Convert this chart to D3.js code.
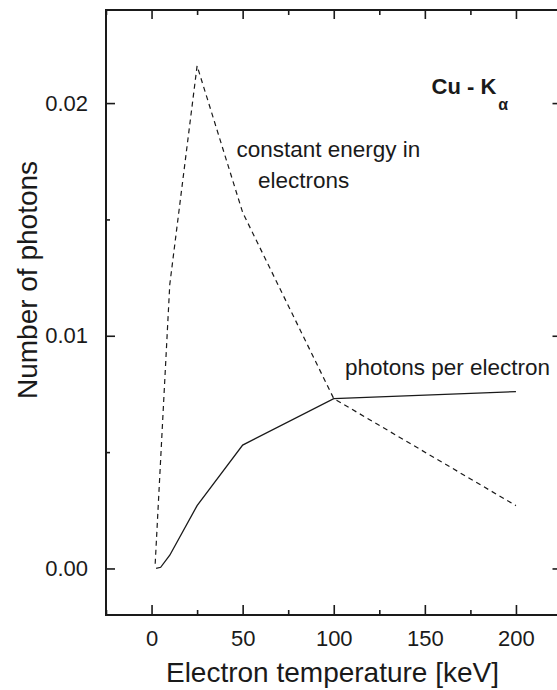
<!DOCTYPE html>
<html>
<head>
<meta charset="utf-8">
<script src="https://cdn.jsdelivr.net/npm/d3@7"></script>
<style>
  html, body { margin: 0; padding: 0; background: #fff; overflow: hidden; }
  svg { display: block; font-family: "Liberation Sans", Arial, sans-serif; }
</style>
</head>
<body>
<div id="container"></div>
<script>
// electron temperature (keV) -> number of photons
const perElectronT = [2.5, 5, 10, 25, 50, 100, 200];
const perElectronN = [0, 0.00005, 0.00057, 0.0027, 0.0053, 0.0073, 0.0076];

const constEnergyT = [2, 10, 25, 50, 100, 200];
const constEnergyN = [0.0002, 0.0122, 0.0216, 0.0153, 0.0073, 0.0027];

const xTicks = [0, 50, 100, 150, 200];
const xMinor = [-25, 25, 75, 125, 175, 225];
const yTicks = [0, 0.01, 0.02];
const yMinor = [0.005, 0.015];

const chart = () => {
  const width = 557, height = 690;
  const left = 106, top = 10, right = 561.5, bottom = 615;

  const x = d3.scaleLinear().domain([-25, 225]).range([left, right]);
  const y = d3.scaleLinear().domain([-0.002, 0.024]).range([bottom, top]);

  const svg = d3.create("svg")
    .attr("width", width)
    .attr("height", height)
    .attr("viewBox", [0, 0, width, height]);

  const ink = "#1a1a1a";

  // frame
  svg.append("rect")
    .attr("x", left).attr("y", top)
    .attr("width", right - left).attr("height", bottom - top)
    .attr("fill", "none")
    .attr("stroke", ink)
    .attr("stroke-width", 2);

  const tickStyle = g => g.call(g => g.select(".domain").remove())
    .call(g => g.selectAll("line").attr("stroke", ink).attr("stroke-width", 1.6));

  // bottom axis with labels
  svg.append("g")
    .attr("transform", `translate(0,${bottom})`)
    .call(d3.axisBottom(x).tickValues(xTicks).tickSize(-10).tickPadding(15).tickFormat(d3.format("d")))
    .call(tickStyle)
    .call(g => g.selectAll("text").attr("fill", ink).attr("font-size", 22).attr("font-family", null));
  svg.append("g")
    .attr("transform", `translate(0,${bottom})`)
    .call(d3.axisBottom(x).tickValues(xMinor).tickSize(-5).tickFormat(""))
    .call(tickStyle);

  // top axis (ticks only)
  svg.append("g")
    .attr("transform", `translate(0,${top})`)
    .call(d3.axisTop(x).tickValues(xTicks).tickSize(-9).tickFormat(""))
    .call(tickStyle);
  svg.append("g")
    .attr("transform", `translate(0,${top})`)
    .call(d3.axisTop(x).tickValues(xMinor).tickSize(-5).tickFormat(""))
    .call(tickStyle);

  // left axis with labels
  svg.append("g")
    .attr("transform", `translate(${left},0)`)
    .call(d3.axisLeft(y).tickValues(yTicks).tickSize(-9).tickPadding(18).tickFormat(d3.format(".2f")))
    .call(tickStyle)
    .call(g => g.selectAll("text").attr("fill", ink).attr("font-size", 22).attr("font-family", null));
  svg.append("g")
    .attr("transform", `translate(${left},0)`)
    .call(d3.axisLeft(y).tickValues(yMinor).tickSize(-4).tickFormat(""))
    .call(tickStyle);

  // right axis (ticks only)
  svg.append("g")
    .attr("transform", `translate(${right},0)`)
    .call(d3.axisRight(y).tickValues(yTicks).tickSize(-9).tickFormat(""))
    .call(tickStyle);
  svg.append("g")
    .attr("transform", `translate(${right},0)`)
    .call(d3.axisRight(y).tickValues(yMinor).tickSize(-4).tickFormat(""))
    .call(tickStyle);

  const line = d3.line().x(d => x(d[0])).y(d => y(d[1]));

  svg.append("path")
    .datum(constEnergyT.map((t, i) => [t, constEnergyN[i]]))
    .attr("d", line)
    .attr("fill", "none")
    .attr("stroke", ink)
    .attr("stroke-width", 1.2)
    .attr("stroke-dasharray", "5,4");

  svg.append("path")
    .datum(perElectronT.map((t, i) => [t, perElectronN[i]]))
    .attr("d", line)
    .attr("fill", "none")
    .attr("stroke", ink)
    .attr("stroke-width", 1.3);

  // annotations
  const notes = svg.append("g").attr("fill", ink).attr("font-size", 22.5);
  notes.append("text").attr("x", 236.5).attr("y", 157).text("constant energy in");
  notes.append("text").attr("x", 258).attr("y", 188).text("electrons");
  notes.append("text").attr("x", 345).attr("y", 375).text("photons per electron");

  const cu = svg.append("text")
    .attr("x", 431.5).attr("y", 93.5)
    .attr("fill", ink)
    .attr("font-size", 22)
    .attr("font-weight", "bold")
    .text("Cu - K");
  cu.append("tspan")
    .attr("dy", 16)
    .attr("dx", 2)
    .attr("font-size", 16)
    .text("\u03b1");

  // axis titles
  svg.append("text")
    .attr("x", (163 + 502) / 2).attr("y", 682)
    .attr("text-anchor", "middle")
    .attr("fill", ink)
    .attr("font-size", 28)
    .text("Electron temperature [keV]");

  svg.append("text")
    .attr("transform", `translate(37,280) rotate(-90)`)
    .attr("text-anchor", "middle")
    .attr("fill", ink)
    .attr("font-size", 28)
    .text("Number of photons");

  return svg.node();
};

const container = document.getElementById("container");
container.innerHTML = "";
container.appendChild(chart());
</script>
</body>
</html>
